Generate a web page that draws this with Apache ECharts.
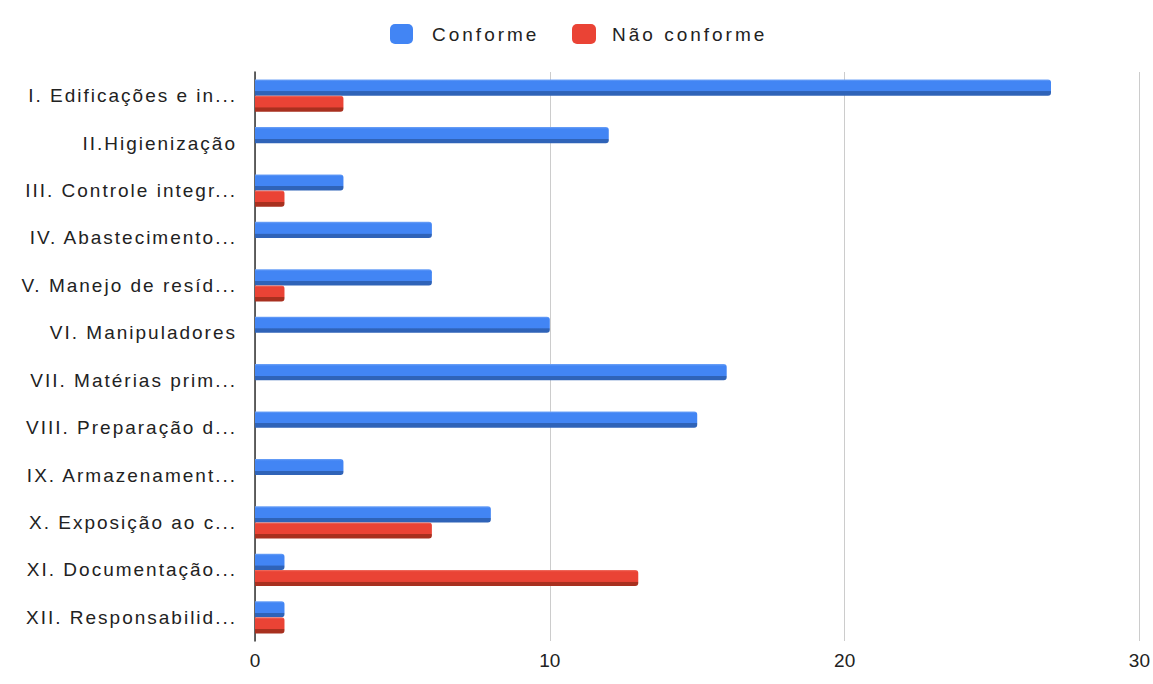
<!DOCTYPE html>
<html>
<head>
<meta charset="utf-8">
<script src="https://cdn.jsdelivr.net/npm/echarts@6/dist/echarts.min.js"></script>
<style>
html,body{margin:0;padding:0;background:#fff}
#c{width:1153px;height:684px}
#c text[text-anchor="end"]{letter-spacing:2px}
#c text[text-anchor="start"]{letter-spacing:3px}
</style>
</head>
<body>
<div id="c"></div>
<script>
const categories = ["I. Edificações e in...","II.Higienização","III. Controle integr...","IV. Abastecimento...","V. Manejo de resíd...","VI. Manipuladores","VII. Matérias prim...","VIII. Preparação d...","IX. Armazenament...","X. Exposição ao c...","XI. Documentação...","XII. Responsabilid..."];
const conforme = [27,12,3,6,6,10,16,15,3,8,1,1];
const naoConforme = [3,0,1,0,1,0,0,0,0,6,13,1];
const xTicks = [0,10,20,30];

function grad(light, main, dark){
  return new echarts.graphic.LinearGradient(0,0,0,1,[
    {offset:0,color:light},{offset:0.12,color:main},{offset:0.72,color:main},{offset:0.74,color:dark},{offset:1,color:dark}
  ]);
}
const font = 'Liberation Sans, Arial, sans-serif';
const chart = echarts.init(document.getElementById('c'), null, {renderer:'svg'});
chart.setOption({
  animation:false,
  legend:[
    {top:19,left:385,itemWidth:23,itemHeight:20,
     textStyle:{fontFamily:font,fontSize:19,color:'#222',padding:[0,0,0,14]},
     data:[{name:'Conforme',itemStyle:{color:'#4285f4',borderRadius:2}}]},
    {top:19,left:567,itemWidth:24,itemHeight:20,
     textStyle:{fontFamily:font,fontSize:19,color:'#222',padding:[0,0,0,11]},
     data:[{name:'Não conforme',itemStyle:{color:'#ea4335',borderRadius:2}}]}
  ],
  grid:{left:255,right:13,top:72,bottom:43,containLabel:false},
  xAxis:{
    type:'value',min:0,max:30,interval:10,
    axisLine:{show:false},axisTick:{show:false},
    splitLine:{lineStyle:{color:'#cccccc',width:1}},
    axisLabel:{fontFamily:font,fontSize:19,color:'#222',margin:10,
      formatter:v=>xTicks.includes(v)?String(v):''}
  },
  yAxis:{
    type:'category',data:categories,inverse:true,
    axisLine:{show:true,onZero:false,lineStyle:{color:'#333',width:1.5}},
    axisTick:{show:false},
    axisLabel:{fontFamily:font,fontSize:19,color:'#222',margin:18}
  },
  series:[
    {name:'Conforme',type:'bar',data:conforme,barGap:'0%',barCategoryGap:'32%',
      itemStyle:{color:grad('#6fa3f7','#4285f4','#2f63b8'),borderRadius:[0,3,3,0]}},
    {name:'Não conforme',type:'bar',data:naoConforme,
      itemStyle:{color:grad('#f07468','#ea4335','#a8301f'),borderRadius:[0,3,3,0]}}
  ]
});
</script>
</body>
</html>
